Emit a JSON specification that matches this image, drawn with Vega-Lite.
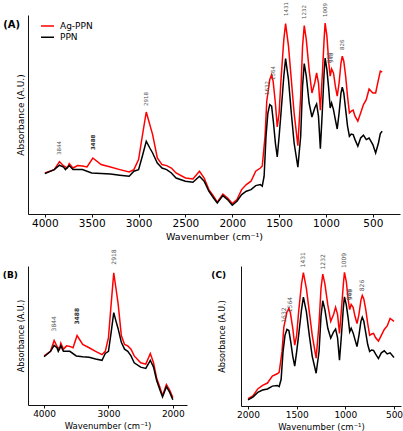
{
  "$schema": "https://vega.github.io/schema/vega-lite/v6.json",
  "background": "white",
  "padding": {"left": 2, "top": 2, "right": 3, "bottom": 2},
  "spacing": 8,
  "config": {
    "view": {"stroke": null},
    "font": "DejaVu Sans",
    "axis": {
      "grid": false,
      "domainColor": "#111111",
      "domainWidth": 1,
      "tickColor": "#111111",
      "labelColor": "#000000",
      "titleColor": "#000000",
      "titleFontWeight": "normal"
    },
    "title": {"color": "#000000"}
  },
  "datasets": {
    "spectra": [
      {"wn": 4000, "a": 0.205, "s": "Ag-PPN"},
      {"wn": 3900, "a": 0.222, "s": "Ag-PPN"},
      {"wn": 3844, "a": 0.262, "s": "Ag-PPN"},
      {"wn": 3800, "a": 0.24, "s": "Ag-PPN"},
      {"wn": 3760, "a": 0.23, "s": "Ag-PPN"},
      {"wn": 3740, "a": 0.252, "s": "Ag-PPN"},
      {"wn": 3700, "a": 0.23, "s": "Ag-PPN"},
      {"wn": 3650, "a": 0.242, "s": "Ag-PPN"},
      {"wn": 3600, "a": 0.24, "s": "Ag-PPN"},
      {"wn": 3550, "a": 0.235, "s": "Ag-PPN"},
      {"wn": 3488, "a": 0.28, "s": "Ag-PPN"},
      {"wn": 3400, "a": 0.247, "s": "Ag-PPN"},
      {"wn": 3300, "a": 0.235, "s": "Ag-PPN"},
      {"wn": 3200, "a": 0.222, "s": "Ag-PPN"},
      {"wn": 3100, "a": 0.21, "s": "Ag-PPN"},
      {"wn": 3050, "a": 0.222, "s": "Ag-PPN"},
      {"wn": 3000, "a": 0.272, "s": "Ag-PPN"},
      {"wn": 2960, "a": 0.39, "s": "Ag-PPN"},
      {"wn": 2918, "a": 0.51, "s": "Ag-PPN"},
      {"wn": 2880, "a": 0.447, "s": "Ag-PPN"},
      {"wn": 2850, "a": 0.397, "s": "Ag-PPN"},
      {"wn": 2800, "a": 0.28, "s": "Ag-PPN"},
      {"wn": 2750, "a": 0.247, "s": "Ag-PPN"},
      {"wn": 2700, "a": 0.242, "s": "Ag-PPN"},
      {"wn": 2650, "a": 0.23, "s": "Ag-PPN"},
      {"wn": 2600, "a": 0.205, "s": "Ag-PPN"},
      {"wn": 2500, "a": 0.18, "s": "Ag-PPN"},
      {"wn": 2420, "a": 0.175, "s": "Ag-PPN"},
      {"wn": 2350, "a": 0.214, "s": "Ag-PPN"},
      {"wn": 2300, "a": 0.18, "s": "Ag-PPN"},
      {"wn": 2250, "a": 0.122, "s": "Ag-PPN"},
      {"wn": 2200, "a": 0.089, "s": "Ag-PPN"},
      {"wn": 2160, "a": 0.059, "s": "Ag-PPN"},
      {"wn": 2100, "a": 0.1, "s": "Ag-PPN"},
      {"wn": 2050, "a": 0.08, "s": "Ag-PPN"},
      {"wn": 2000, "a": 0.052, "s": "Ag-PPN"},
      {"wn": 1950, "a": 0.072, "s": "Ag-PPN"},
      {"wn": 1900, "a": 0.122, "s": "Ag-PPN"},
      {"wn": 1850, "a": 0.147, "s": "Ag-PPN"},
      {"wn": 1800, "a": 0.164, "s": "Ag-PPN"},
      {"wn": 1750, "a": 0.214, "s": "Ag-PPN"},
      {"wn": 1700, "a": 0.23, "s": "Ag-PPN"},
      {"wn": 1680, "a": 0.24, "s": "Ag-PPN"},
      {"wn": 1650, "a": 0.39, "s": "Ag-PPN"},
      {"wn": 1632, "a": 0.564, "s": "Ag-PPN"},
      {"wn": 1600, "a": 0.672, "s": "Ag-PPN"},
      {"wn": 1580, "a": 0.697, "s": "Ag-PPN"},
      {"wn": 1564, "a": 0.664, "s": "Ag-PPN"},
      {"wn": 1540, "a": 0.555, "s": "Ag-PPN"},
      {"wn": 1520, "a": 0.435, "s": "Ag-PPN"},
      {"wn": 1500, "a": 0.505, "s": "Ag-PPN"},
      {"wn": 1480, "a": 0.672, "s": "Ag-PPN"},
      {"wn": 1450, "a": 0.872, "s": "Ag-PPN"},
      {"wn": 1431, "a": 0.952, "s": "Ag-PPN"},
      {"wn": 1400, "a": 0.839, "s": "Ag-PPN"},
      {"wn": 1370, "a": 0.672, "s": "Ag-PPN"},
      {"wn": 1340, "a": 0.505, "s": "Ag-PPN"},
      {"wn": 1300, "a": 0.342, "s": "Ag-PPN"},
      {"wn": 1270, "a": 0.589, "s": "Ag-PPN"},
      {"wn": 1250, "a": 0.839, "s": "Ag-PPN"},
      {"wn": 1232, "a": 0.942, "s": "Ag-PPN"},
      {"wn": 1210, "a": 0.872, "s": "Ag-PPN"},
      {"wn": 1180, "a": 0.722, "s": "Ag-PPN"},
      {"wn": 1150, "a": 0.605, "s": "Ag-PPN"},
      {"wn": 1120, "a": 0.655, "s": "Ag-PPN"},
      {"wn": 1100, "a": 0.705, "s": "Ag-PPN"},
      {"wn": 1080, "a": 0.655, "s": "Ag-PPN"},
      {"wn": 1060, "a": 0.519, "s": "Ag-PPN"},
      {"wn": 1040, "a": 0.689, "s": "Ag-PPN"},
      {"wn": 1020, "a": 0.872, "s": "Ag-PPN"},
      {"wn": 1009, "a": 0.955, "s": "Ag-PPN"},
      {"wn": 990, "a": 0.889, "s": "Ag-PPN"},
      {"wn": 970, "a": 0.755, "s": "Ag-PPN"},
      {"wn": 955, "a": 0.689, "s": "Ag-PPN"},
      {"wn": 940, "a": 0.725, "s": "Ag-PPN"},
      {"wn": 920, "a": 0.705, "s": "Ag-PPN"},
      {"wn": 900, "a": 0.639, "s": "Ag-PPN"},
      {"wn": 880, "a": 0.589, "s": "Ag-PPN"},
      {"wn": 860, "a": 0.655, "s": "Ag-PPN"},
      {"wn": 840, "a": 0.755, "s": "Ag-PPN"},
      {"wn": 826, "a": 0.789, "s": "Ag-PPN"},
      {"wn": 810, "a": 0.764, "s": "Ag-PPN"},
      {"wn": 790, "a": 0.689, "s": "Ag-PPN"},
      {"wn": 770, "a": 0.589, "s": "Ag-PPN"},
      {"wn": 750, "a": 0.505, "s": "Ag-PPN"},
      {"wn": 730, "a": 0.514, "s": "Ag-PPN"},
      {"wn": 710, "a": 0.519, "s": "Ag-PPN"},
      {"wn": 690, "a": 0.489, "s": "Ag-PPN"},
      {"wn": 660, "a": 0.464, "s": "Ag-PPN"},
      {"wn": 630, "a": 0.505, "s": "Ag-PPN"},
      {"wn": 600, "a": 0.547, "s": "Ag-PPN"},
      {"wn": 570, "a": 0.572, "s": "Ag-PPN"},
      {"wn": 540, "a": 0.625, "s": "Ag-PPN"},
      {"wn": 500, "a": 0.605, "s": "Ag-PPN"},
      {"wn": 470, "a": 0.605, "s": "Ag-PPN"},
      {"wn": 440, "a": 0.672, "s": "Ag-PPN"},
      {"wn": 420, "a": 0.714, "s": "Ag-PPN"},
      {"wn": 400, "a": 0.709, "s": "Ag-PPN"},
      {"wn": 4000, "a": 0.202, "s": "PPN"},
      {"wn": 3900, "a": 0.222, "s": "PPN"},
      {"wn": 3844, "a": 0.244, "s": "PPN"},
      {"wn": 3800, "a": 0.235, "s": "PPN"},
      {"wn": 3780, "a": 0.222, "s": "PPN"},
      {"wn": 3740, "a": 0.242, "s": "PPN"},
      {"wn": 3700, "a": 0.222, "s": "PPN"},
      {"wn": 3600, "a": 0.222, "s": "PPN"},
      {"wn": 3500, "a": 0.205, "s": "PPN"},
      {"wn": 3400, "a": 0.202, "s": "PPN"},
      {"wn": 3300, "a": 0.2, "s": "PPN"},
      {"wn": 3200, "a": 0.194, "s": "PPN"},
      {"wn": 3100, "a": 0.189, "s": "PPN"},
      {"wn": 3050, "a": 0.214, "s": "PPN"},
      {"wn": 3000, "a": 0.222, "s": "PPN"},
      {"wn": 2960, "a": 0.289, "s": "PPN"},
      {"wn": 2918, "a": 0.364, "s": "PPN"},
      {"wn": 2880, "a": 0.33, "s": "PPN"},
      {"wn": 2850, "a": 0.305, "s": "PPN"},
      {"wn": 2800, "a": 0.255, "s": "PPN"},
      {"wn": 2750, "a": 0.23, "s": "PPN"},
      {"wn": 2700, "a": 0.222, "s": "PPN"},
      {"wn": 2650, "a": 0.205, "s": "PPN"},
      {"wn": 2600, "a": 0.18, "s": "PPN"},
      {"wn": 2500, "a": 0.164, "s": "PPN"},
      {"wn": 2420, "a": 0.159, "s": "PPN"},
      {"wn": 2350, "a": 0.189, "s": "PPN"},
      {"wn": 2300, "a": 0.164, "s": "PPN"},
      {"wn": 2250, "a": 0.114, "s": "PPN"},
      {"wn": 2200, "a": 0.08, "s": "PPN"},
      {"wn": 2160, "a": 0.055, "s": "PPN"},
      {"wn": 2100, "a": 0.092, "s": "PPN"},
      {"wn": 2050, "a": 0.072, "s": "PPN"},
      {"wn": 2000, "a": 0.044, "s": "PPN"},
      {"wn": 1950, "a": 0.064, "s": "PPN"},
      {"wn": 1900, "a": 0.097, "s": "PPN"},
      {"wn": 1850, "a": 0.114, "s": "PPN"},
      {"wn": 1800, "a": 0.122, "s": "PPN"},
      {"wn": 1750, "a": 0.142, "s": "PPN"},
      {"wn": 1700, "a": 0.147, "s": "PPN"},
      {"wn": 1680, "a": 0.139, "s": "PPN"},
      {"wn": 1660, "a": 0.189, "s": "PPN"},
      {"wn": 1640, "a": 0.389, "s": "PPN"},
      {"wn": 1620, "a": 0.505, "s": "PPN"},
      {"wn": 1600, "a": 0.547, "s": "PPN"},
      {"wn": 1580, "a": 0.539, "s": "PPN"},
      {"wn": 1560, "a": 0.455, "s": "PPN"},
      {"wn": 1540, "a": 0.355, "s": "PPN"},
      {"wn": 1520, "a": 0.285, "s": "PPN"},
      {"wn": 1500, "a": 0.389, "s": "PPN"},
      {"wn": 1480, "a": 0.505, "s": "PPN"},
      {"wn": 1450, "a": 0.689, "s": "PPN"},
      {"wn": 1431, "a": 0.777, "s": "PPN"},
      {"wn": 1400, "a": 0.672, "s": "PPN"},
      {"wn": 1370, "a": 0.505, "s": "PPN"},
      {"wn": 1340, "a": 0.355, "s": "PPN"},
      {"wn": 1300, "a": 0.234, "s": "PPN"},
      {"wn": 1270, "a": 0.389, "s": "PPN"},
      {"wn": 1250, "a": 0.639, "s": "PPN"},
      {"wn": 1232, "a": 0.752, "s": "PPN"},
      {"wn": 1210, "a": 0.689, "s": "PPN"},
      {"wn": 1180, "a": 0.555, "s": "PPN"},
      {"wn": 1150, "a": 0.485, "s": "PPN"},
      {"wn": 1120, "a": 0.53, "s": "PPN"},
      {"wn": 1100, "a": 0.55, "s": "PPN"},
      {"wn": 1080, "a": 0.489, "s": "PPN"},
      {"wn": 1060, "a": 0.327, "s": "PPN"},
      {"wn": 1040, "a": 0.505, "s": "PPN"},
      {"wn": 1020, "a": 0.705, "s": "PPN"},
      {"wn": 1009, "a": 0.78, "s": "PPN"},
      {"wn": 990, "a": 0.722, "s": "PPN"},
      {"wn": 970, "a": 0.622, "s": "PPN"},
      {"wn": 955, "a": 0.53, "s": "PPN"},
      {"wn": 940, "a": 0.555, "s": "PPN"},
      {"wn": 920, "a": 0.522, "s": "PPN"},
      {"wn": 900, "a": 0.472, "s": "PPN"},
      {"wn": 880, "a": 0.425, "s": "PPN"},
      {"wn": 860, "a": 0.505, "s": "PPN"},
      {"wn": 840, "a": 0.605, "s": "PPN"},
      {"wn": 826, "a": 0.634, "s": "PPN"},
      {"wn": 810, "a": 0.605, "s": "PPN"},
      {"wn": 790, "a": 0.522, "s": "PPN"},
      {"wn": 770, "a": 0.439, "s": "PPN"},
      {"wn": 750, "a": 0.389, "s": "PPN"},
      {"wn": 730, "a": 0.4, "s": "PPN"},
      {"wn": 710, "a": 0.397, "s": "PPN"},
      {"wn": 690, "a": 0.372, "s": "PPN"},
      {"wn": 660, "a": 0.339, "s": "PPN"},
      {"wn": 630, "a": 0.38, "s": "PPN"},
      {"wn": 600, "a": 0.394, "s": "PPN"},
      {"wn": 570, "a": 0.372, "s": "PPN"},
      {"wn": 540, "a": 0.38, "s": "PPN"},
      {"wn": 500, "a": 0.347, "s": "PPN"},
      {"wn": 470, "a": 0.305, "s": "PPN"},
      {"wn": 440, "a": 0.355, "s": "PPN"},
      {"wn": 420, "a": 0.402, "s": "PPN"},
      {"wn": 400, "a": 0.414, "s": "PPN"}
    ],
    "peaks": [
      {"label": "3844", "wn": 3844, "ly": 0.295},
      {"label": "3488", "wn": 3488, "ly": 0.32},
      {"label": "2918", "wn": 2918, "ly": 0.54},
      {"label": "1632", "wn": 1632, "ly": 0.595},
      {"label": "1564", "wn": 1564, "ly": 0.67},
      {"label": "1431", "wn": 1431, "ly": 0.99},
      {"label": "1232", "wn": 1232, "ly": 0.975},
      {"label": "1009", "wn": 1009, "ly": 0.985},
      {"label": "966", "wn": 966, "ly": 0.755},
      {"label": "948", "wn": 948, "ly": 0.755},
      {"label": "826", "wn": 826, "ly": 0.82}
    ]
  },
  "resolve": {"scale": {"color": "independent"}, "legend": {"color": "independent"}},
  "vconcat": [
    {
      "width": 372,
      "height": 199,
      "title": {"text": "(A)", "orient": "left", "anchor": "end", "frame": "group", "angle": 0, "align": "right", "baseline": "top", "fontSize": 10, "fontWeight": "bold", "offset": -21, "dy": 5},
      "layer": [
        {
          "data": {"name": "spectra"},
          "mark": {"type": "line", "strokeWidth": 1.5},
          "encoding": {
            "x": {"field": "wn", "type": "quantitative",
              "scale": {"domain": [4180, 210], "nice": false, "zero": false},
              "axis": {"values": [4000, 3500, 3000, 2500, 2000, 1500, 1000, 500], "format": "d", "title": "Wavenumber (cm⁻¹)", "labelFontSize": 10.5, "titleFontSize": 9.5, "tickSize": 3, "labelPadding": 1, "titlePadding": 3}},
            "y": {"field": "a", "type": "quantitative",
              "scale": {"domain": [0, 0.995], "nice": false, "zero": false},
              "axis": {"title": "Absorbance (A.U.)", "labels": false, "ticks": false, "titleFontSize": 9, "titlePadding": 3}},
            "color": {"field": "s", "type": "nominal",
              "scale": {"domain": ["Ag-PPN", "PPN"], "range": ["#ff0000", "#000000"]},
              "legend": {"title": null, "orient": "none", "legendX": 12, "legendY": 6, "symbolType": "stroke", "symbolSize": 169, "symbolStrokeWidth": 1.5, "clipHeight": 10, "labelFontSize": 9, "labelOffset": 5, "rowPadding": 1.3, "padding": 0}}
          }
        },
        {
          "data": {"name": "peaks"},
          "transform": [{"filter": "datum.label != '3488'"}],
          "mark": {"type": "text", "angle": 270, "align": "left", "baseline": "middle", "fontSize": 5.5, "color": "#555555"},
          "encoding": {
            "x": {"field": "wn", "type": "quantitative"},
            "y": {"field": "ly", "type": "quantitative"},
            "text": {"field": "label"}
          }
        },
        {
          "data": {"name": "peaks"},
          "transform": [{"filter": "datum.label == '3488'"}],
          "mark": {"type": "text", "angle": 270, "align": "left", "baseline": "middle", "fontSize": 5.5, "fontWeight": "bold", "color": "#333333"},
          "encoding": {
            "x": {"field": "wn", "type": "quantitative"},
            "y": {"field": "ly", "type": "quantitative"},
            "text": {"field": "label"}
          }
        }
      ]
    },
    {
      "spacing": 24,
      "resolve": {"scale": {"color": "independent"}, "legend": {"color": "independent"}},
      "hconcat": [
        {
          "width": 159,
          "height": 139,
          "title": {"text": "(B)", "orient": "left", "anchor": "end", "frame": "group", "angle": 0, "align": "right", "baseline": "top", "fontSize": 9, "fontWeight": "bold", "offset": -16, "dy": 5},
          "layer": [
            {
              "data": {"name": "spectra"},
              "transform": [{"filter": "datum.wn >= 2000"}],
              "mark": {"type": "line", "strokeWidth": 1.5},
              "encoding": {
                "x": {"field": "wn", "type": "quantitative",
                  "scale": {"domain": [4250, 1780], "nice": false, "zero": false},
                  "axis": {"values": [4000, 3500, 3000, 2500, 2000], "format": "d", "title": "Wavenumber (cm⁻¹)", "labelFontSize": 9, "titleFontSize": 8.5, "tickSize": 3, "labelPadding": 1, "titlePadding": 3}},
                "y": {"field": "a", "type": "quantitative",
                  "scale": {"domain": [0.025, 0.535], "nice": false, "zero": false},
                  "axis": {"title": "Absorbance (A.U.)", "labels": false, "ticks": false, "titleFontSize": 8, "titlePadding": 3}},
                "color": {"field": "s", "type": "nominal",
                  "scale": {"domain": ["Ag-PPN", "PPN"], "range": ["#ff0000", "#000000"]},
                  "legend": null}
              }
            },
            {
              "data": {"name": "peaks"},
              "transform": [{"filter": "datum.wn >= 2000 && datum.label != '3488'"}],
              "mark": {"type": "text", "angle": 270, "align": "left", "baseline": "middle", "fontSize": 6, "color": "#555555"},
              "encoding": {
                "x": {"field": "wn", "type": "quantitative"},
                "y": {"field": "ly", "type": "quantitative"},
                "text": {"field": "label"}
              }
            },
            {
              "data": {"name": "peaks"},
              "transform": [{"filter": "datum.label == '3488'"}],
              "mark": {"type": "text", "angle": 270, "align": "left", "baseline": "middle", "fontSize": 6, "fontWeight": "bold", "color": "#333333"},
              "encoding": {
                "x": {"field": "wn", "type": "quantitative"},
                "y": {"field": "ly", "type": "quantitative"},
                "text": {"field": "label"}
              }
            }
          ]
        },
        {
          "width": 160,
          "height": 140,
          "title": {"text": "(C)", "orient": "left", "anchor": "end", "frame": "group", "angle": 0, "align": "right", "baseline": "top", "fontSize": 9, "fontWeight": "bold", "offset": -23, "dy": 5},
          "layer": [
            {
              "data": {"name": "spectra"},
              "transform": [{"filter": "datum.wn <= 2000 && datum.wn >= 500"}],
              "mark": {"type": "line", "strokeWidth": 1.5},
              "encoding": {
                "x": {"field": "wn", "type": "quantitative",
                  "scale": {"domain": [2072, 428], "nice": false, "zero": false},
                  "axis": {"values": [2000, 1500, 1000, 500], "format": "d", "title": "Wavenumber (cm⁻¹)", "labelFontSize": 9, "titleFontSize": 8.5, "tickSize": 3, "labelPadding": 1, "titlePadding": 3}},
                "y": {"field": "a", "type": "quantitative",
                  "scale": {"domain": [0, 1.0], "nice": false, "zero": false},
                  "axis": {"title": "Absorbance (A.U.)", "labels": false, "ticks": false, "titleFontSize": 8, "titlePadding": 15}},
                "color": {"field": "s", "type": "nominal",
                  "scale": {"domain": ["Ag-PPN", "PPN"], "range": ["#ff0000", "#000000"]},
                  "legend": null}
              }
            },
            {
              "data": {"name": "peaks"},
              "transform": [{"filter": "datum.wn < 2000"}],
              "mark": {"type": "text", "angle": 270, "align": "left", "baseline": "middle", "fontSize": 6, "color": "#555555"},
              "encoding": {
                "x": {"field": "wn", "type": "quantitative"},
                "y": {"field": "ly", "type": "quantitative"},
                "text": {"field": "label"}
              }
            }
          ]
        }
      ]
    }
  ]
}
